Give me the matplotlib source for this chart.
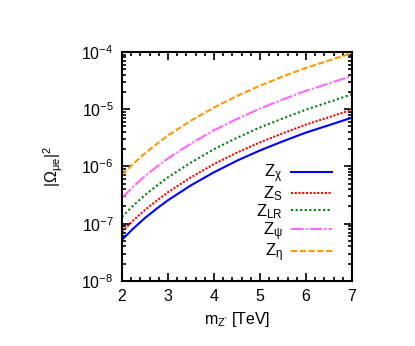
import numpy as np
import matplotlib
matplotlib.use("Agg")
import matplotlib.pyplot as plt
from matplotlib.ticker import LogLocator, MultipleLocator, NullFormatter

plt.rcParams['font.family'] = ['Liberation Sans', 'DejaVu Sans']
plt.rcParams['mathtext.fontset'] = 'custom'
plt.rcParams['mathtext.rm'] = 'Liberation Sans'
plt.rcParams['mathtext.it'] = 'Liberation Sans'
plt.rcParams['mathtext.default'] = 'regular'

mass  = [2.0, 2.25, 2.5, 2.75, 3.0, 3.5, 4.0, 4.5, 5.0, 5.5, 6.0, 6.5, 7.0]
z_chi = [5.25e-8, 8.3e-8, 1.26e-7, 1.82e-7, 2.57e-7, 4.68e-7, 7.9e-7, 1.26e-6, 1.9e-6, 2.75e-6, 3.9e-6, 5.25e-6, 7.1e-6]
z_s   = [7.2e-8, 1.15e-7, 1.74e-7, 2.5e-7, 3.55e-7, 6.46e-7, 1.1e-6, 1.74e-6, 2.63e-6, 3.8e-6, 5.37e-6, 7.24e-6, 9.8e-6]
z_lr  = [1.32e-7, 2.09e-7, 3.16e-7, 4.57e-7, 6.46e-7, 1.17e-6, 2.0e-6, 3.16e-6, 4.79e-6, 6.9e-6, 9.8e-6, 1.33e-5, 1.82e-5]
z_psi = [2.82e-7, 4.47e-7, 6.76e-7, 9.8e-7, 1.38e-6, 2.51e-6, 4.27e-6, 6.76e-6, 1.02e-5, 1.48e-5, 2.09e-5, 2.82e-5, 3.8e-5]
z_eta = [7.1e-7, 1.12e-6, 1.7e-6, 2.45e-6, 3.47e-6, 6.3e-6, 1.07e-5, 1.7e-5, 2.57e-5, 3.72e-5, 5.25e-5, 7.08e-5, 9.5e-5]

labels = [r'Z$_\chi$', r'Z$_S$', r'Z$_{LR}$', r'Z$_\psi$', r'Z$_\eta$']

fig = plt.figure(figsize=(4.15, 3.46), dpi=100)
ax = fig.add_axes([0.294, 0.188, 0.554, 0.662])

ax.plot(mass, z_chi, color='#0000ff', lw=1.5, ls='-', label=labels[0])
ax.plot(mass, z_s, color='#ff0000', lw=1.5, ls=(0, (1, 0.8)), label=labels[1])
ax.plot(mass, z_lr, color='#00800a', lw=1.5, ls=(0, (1, 1.2)), label=labels[2])
ax.plot(mass, z_psi, color='#ff66ff', lw=1.5, ls=(0, (6, 1, 1, 1)), label=labels[3])
ax.plot(mass, z_eta, color='#ff9900', lw=1.5, ls=(0, (3, 1.2)), label=labels[4])

ax.set_yscale('log')
ax.set_xlim(2, 7)
ax.set_ylim(1e-8, 1e-4)
ax.xaxis.set_major_locator(MultipleLocator(1))
ax.xaxis.set_minor_locator(MultipleLocator(0.2))
ax.yaxis.set_major_locator(LogLocator(base=10, numticks=10))
ax.yaxis.set_minor_locator(LogLocator(base=10, subs=np.arange(2, 10), numticks=20))
ax.yaxis.set_minor_formatter(NullFormatter())
ax.tick_params(which='both', direction='in', top=True, right=True, labelsize=11.5, width=1.2)
ax.tick_params(which='major', length=6, pad=6)
ax.tick_params(which='minor', length=3)
for s in ax.spines.values():
    s.set_linewidth(1.5)

ax.set_xlabel(r"m$_{Z'}$ [TeV]", fontsize=11.5, labelpad=4)
ax.set_ylabel(r'|$\Omega_{\mu e}$|$^2$', fontsize=11.5, labelpad=12)

ax.legend(loc='lower right', frameon=False, markerfirst=False, fontsize=12,
          handlelength=2.45, labelspacing=-0.05, borderaxespad=0.0, borderpad=0.0,
          handletextpad=0.5, bbox_to_anchor=(0.913, 0.072))

fig.savefig('out.png', dpi=100)
